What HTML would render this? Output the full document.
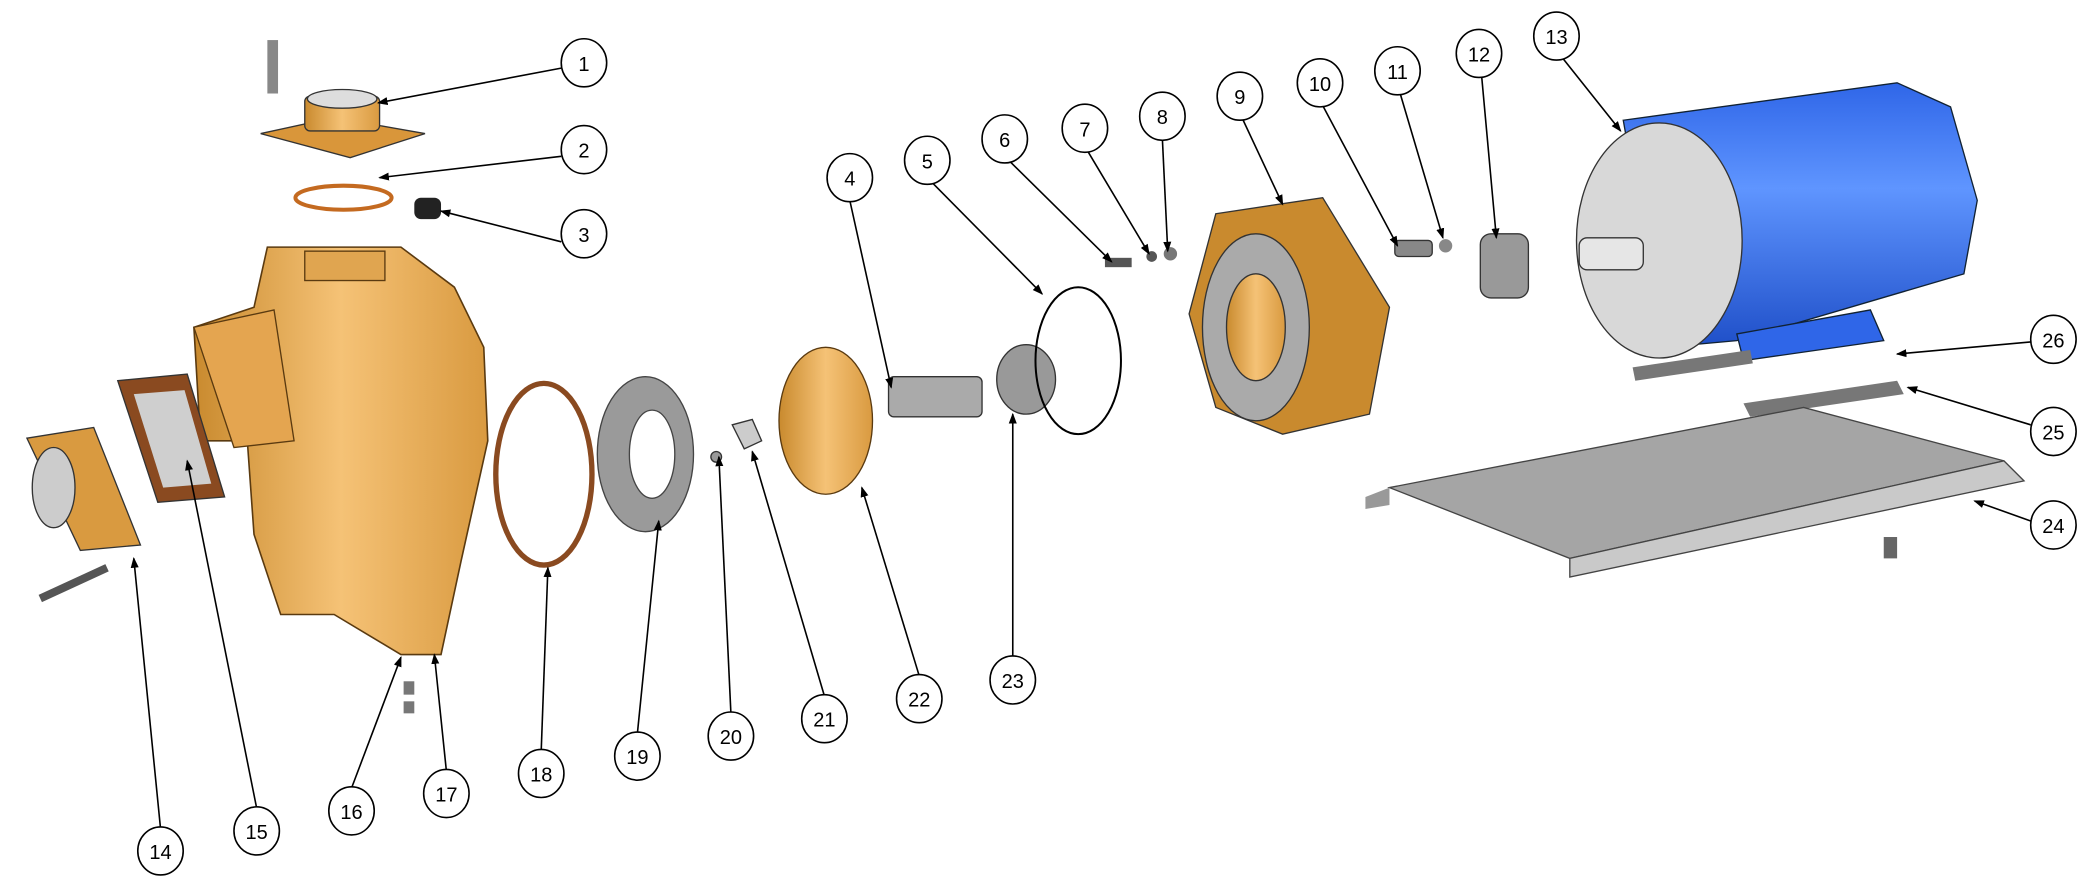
<!DOCTYPE html>
<html><head><style>html,body{margin:0;padding:0;background:#fff;}svg{display:block}</style></head>
<body>
<svg width="2095" height="883" viewBox="0 0 1568 661" xmlns="http://www.w3.org/2000/svg" font-family="Liberation Sans, sans-serif">
<defs>
<linearGradient id="or" x1="0" x2="1"><stop offset="0" stop-color="#c98a2e"/><stop offset="0.5" stop-color="#f5c276"/><stop offset="1" stop-color="#d99a40"/></linearGradient>
<linearGradient id="bl" x1="0" x2="0" y1="0" y2="1"><stop offset="0" stop-color="#2f66e8"/><stop offset="0.4" stop-color="#5f95ff"/><stop offset="1" stop-color="#1f4fc8"/></linearGradient>
<marker id="a" markerWidth="8" markerHeight="8" refX="7" refY="4" orient="auto" markerUnits="userSpaceOnUse"><path d="M0,1 L8,4 L0,7z" fill="#000"/></marker>
</defs>
<!-- part 1 -->
<path d="M195,100 L250,88 L318,100 L262,118 Z" fill="#d9963a" stroke="#333" stroke-width="1"/>
<rect x="228" y="72" width="56" height="26" rx="4" fill="url(#or)" stroke="#333"/>
<ellipse cx="256" cy="74" rx="26" ry="7" fill="#ddd" stroke="#333"/>
<rect x="200" y="30" width="8" height="40" fill="#888"/>
<!-- 2 -->
<ellipse cx="257" cy="148" rx="36" ry="9" fill="none" stroke="#c46a20" stroke-width="3"/>
<!-- 3 -->
<rect x="310" y="148" width="20" height="16" rx="5" fill="#222"/>
<!-- pump body 17 -->
<path d="M200,185 L300,185 L340,215 L362,260 L365,330 L345,420 L330,490 L300,490 L250,460 L210,460 L190,400 L185,330 L150,330 L145,245 L190,230 Z" fill="url(#or)" stroke="#5a3a10" stroke-width="1.2"/>
<path d="M145,245 L205,232 L220,330 L175,335 Z" fill="#e4a550" stroke="#5a3a10"/>
<rect x="228" y="188" width="60" height="22" fill="#e0a550" stroke="#5a3a10"/>
<rect x="302" y="510" width="8" height="10" fill="#777"/>
<rect x="302" y="525" width="8" height="9" fill="#777"/>
<!-- 14 -->
<path d="M20,328 L70,320 L105,408 L60,412 Z" fill="#d99a40" stroke="#333"/>
<ellipse cx="40" cy="365" rx="16" ry="30" fill="#ccc" stroke="#333"/>
<path d="M30,448 L80,425" stroke="#555" stroke-width="6"/>
<!-- 15 -->
<path d="M88,285 L140,280 L168,372 L118,376 Z" fill="#8a4a20" stroke="#333"/>
<path d="M100,295 L138,292 L158,362 L122,365 Z" fill="#cfcfcf"/>
<!-- 18 -->
<ellipse cx="407" cy="355" rx="36" ry="68" fill="none" stroke="#8a4a20" stroke-width="4"/>
<!-- 19 -->
<ellipse cx="483" cy="340" rx="36" ry="58" fill="#9a9a9a" stroke="#444"/>
<ellipse cx="488" cy="340" rx="17" ry="33" fill="#fff" stroke="#444"/>
<!-- 20, 21 -->
<circle cx="536" cy="342" r="4" fill="#999" stroke="#333"/>
<path d="M548,318 L563,314 L570,330 L557,336 Z" fill="#ccc" stroke="#333"/>
<!-- 22 -->
<ellipse cx="618" cy="315" rx="35" ry="55" fill="url(#or)" stroke="#5a3a10"/>
<!-- 4 -->
<rect x="665" y="282" width="70" height="30" rx="4" fill="#aaa" stroke="#333"/>
<!-- 23 -->
<ellipse cx="768" cy="284" rx="22" ry="26" fill="#999" stroke="#333"/>
<!-- 5 -->
<ellipse cx="807" cy="270" rx="32" ry="55" fill="none" stroke="#000" stroke-width="1.5"/>
<!-- 6,7,8 -->
<rect x="827" y="193" width="20" height="7" fill="#555"/>
<circle cx="862" cy="192" r="4" fill="#555"/><circle cx="876" cy="190" r="5" fill="#777"/>
<!-- 9 -->
<path d="M910,160 L990,148 L1040,230 L1025,310 L960,325 L910,305 L890,235 Z" fill="#c98a2e" stroke="#333"/>
<ellipse cx="940" cy="245" rx="40" ry="70" fill="#aaa" stroke="#333"/>
<ellipse cx="940" cy="245" rx="22" ry="40" fill="url(#or)" stroke="#333"/>
<!-- 10,11,12 -->
<rect x="1044" y="180" width="28" height="12" rx="3" fill="#888" stroke="#333"/>
<circle cx="1082" cy="184" r="5" fill="#888"/>
<rect x="1108" y="175" width="36" height="48" rx="8" fill="#999" stroke="#333"/>
<!-- 13 motor -->
<path d="M1215,90 L1420,62 L1460,80 L1480,150 L1470,205 L1300,255 L1245,260 Z" fill="url(#bl)" stroke="#123" />
<path d="M1300,250 L1400,232 L1410,255 L1305,270 Z" fill="#2f66e8" stroke="#123"/>
<ellipse cx="1242" cy="180" rx="62" ry="88" fill="#d8d8d8" stroke="#333"/>
<rect x="1182" y="178" width="48" height="24" rx="6" fill="#e6e6e6" stroke="#333"/>
<path d="M1222,275 L1310,262 L1312,272 L1224,285 Z" fill="#777"/>
<!-- 25 -->
<path d="M1305,302 L1420,285 L1425,295 L1310,312 Z" fill="#777"/>
<!-- 24 plate -->
<path d="M1040,365 L1350,305 L1500,345 L1175,418 Z" fill="#a5a5a5" stroke="#444"/>
<path d="M1175,418 L1500,345 L1515,360 L1175,432 Z" fill="#c9c9c9" stroke="#444"/>
<path d="M1022,372 L1040,365 L1040,378 L1022,381 Z" fill="#999"/>
<rect x="1410" y="402" width="10" height="16" fill="#666"/>
<!-- leaders -->
<g stroke="#000" stroke-width="1.2" fill="none" marker-end="url(#a)">
<line x1="420" y1="51" x2="283" y2="77"/><line x1="420" y1="117" x2="284" y2="133"/><line x1="420" y1="181" x2="330" y2="158"/>
<line x1="636" y1="150" x2="667" y2="290"/><line x1="698" y1="137" x2="780" y2="220"/><line x1="756" y1="121" x2="832" y2="196"/>
<line x1="814" y1="113" x2="860" y2="190"/><line x1="870" y1="104" x2="874" y2="188"/><line x1="930" y1="89" x2="960" y2="153"/>
<line x1="990" y1="79" x2="1046" y2="184"/><line x1="1048" y1="70" x2="1080" y2="178"/><line x1="1109" y1="57" x2="1120" y2="178"/>
<line x1="1170" y1="44" x2="1213" y2="98"/><line x1="1520" y1="256" x2="1420" y2="265"/><line x1="1520" y1="318" x2="1428" y2="290"/>
<line x1="1520" y1="390" x2="1478" y2="375"/><line x1="120" y1="620" x2="100" y2="418"/><line x1="192" y1="605" x2="140" y2="345"/>
<line x1="263" y1="590" x2="300" y2="492"/><line x1="334" y1="577" x2="325" y2="490"/><line x1="405" y1="562" x2="410" y2="425"/>
<line x1="477" y1="549" x2="493" y2="390"/><line x1="547" y1="534" x2="538" y2="342"/><line x1="617" y1="521" x2="563" y2="338"/>
<line x1="688" y1="506" x2="645" y2="365"/><line x1="758" y1="492" x2="758" y2="310"/>
</g>
<g fill="#fff" stroke="#000" stroke-width="1.2">
<ellipse cx="437" cy="47" rx="17" ry="18"/><ellipse cx="437" cy="112" rx="17" ry="18"/><ellipse cx="437" cy="175" rx="17" ry="18"/>
<ellipse cx="636" cy="133" rx="17" ry="18"/><ellipse cx="694" cy="120" rx="17" ry="18"/><ellipse cx="752" cy="104" rx="17" ry="18"/>
<ellipse cx="812" cy="96" rx="17" ry="18"/><ellipse cx="870" cy="87" rx="17" ry="18"/><ellipse cx="928" cy="72" rx="17" ry="18"/>
<ellipse cx="988" cy="62" rx="17" ry="18"/><ellipse cx="1046" cy="53" rx="17" ry="18"/><ellipse cx="1107" cy="40" rx="17" ry="18"/>
<ellipse cx="1165" cy="27" rx="17" ry="18"/><ellipse cx="1537" cy="254" rx="17" ry="18"/><ellipse cx="1537" cy="323" rx="17" ry="18"/>
<ellipse cx="1537" cy="393" rx="17" ry="18"/><ellipse cx="120" cy="637" rx="17" ry="18"/><ellipse cx="192" cy="622" rx="17" ry="18"/>
<ellipse cx="263" cy="607" rx="17" ry="18"/><ellipse cx="334" cy="594" rx="17" ry="18"/><ellipse cx="405" cy="579" rx="17" ry="18"/>
<ellipse cx="477" cy="566" rx="17" ry="18"/><ellipse cx="547" cy="551" rx="17" ry="18"/><ellipse cx="617" cy="538" rx="17" ry="18"/>
<ellipse cx="688" cy="523" rx="17" ry="18"/><ellipse cx="758" cy="509" rx="17" ry="18"/>
</g>
<g font-size="15" text-anchor="middle" fill="#000">
<text x="437" y="53">1</text><text x="437" y="118">2</text><text x="437" y="181">3</text><text x="636" y="139">4</text>
<text x="694" y="126">5</text><text x="752" y="110">6</text><text x="812" y="102">7</text><text x="870" y="93">8</text>
<text x="928" y="78">9</text><text x="988" y="68">10</text><text x="1046" y="59">11</text><text x="1107" y="46">12</text>
<text x="1165" y="33">13</text><text x="1537" y="260">26</text><text x="1537" y="329">25</text><text x="1537" y="399">24</text>
<text x="120" y="643">14</text><text x="192" y="628">15</text><text x="263" y="613">16</text><text x="334" y="600">17</text>
<text x="405" y="585">18</text><text x="477" y="572">19</text><text x="547" y="557">20</text><text x="617" y="544">21</text>
<text x="688" y="529">22</text><text x="758" y="515">23</text>
</g>
</svg>
</body></html>
